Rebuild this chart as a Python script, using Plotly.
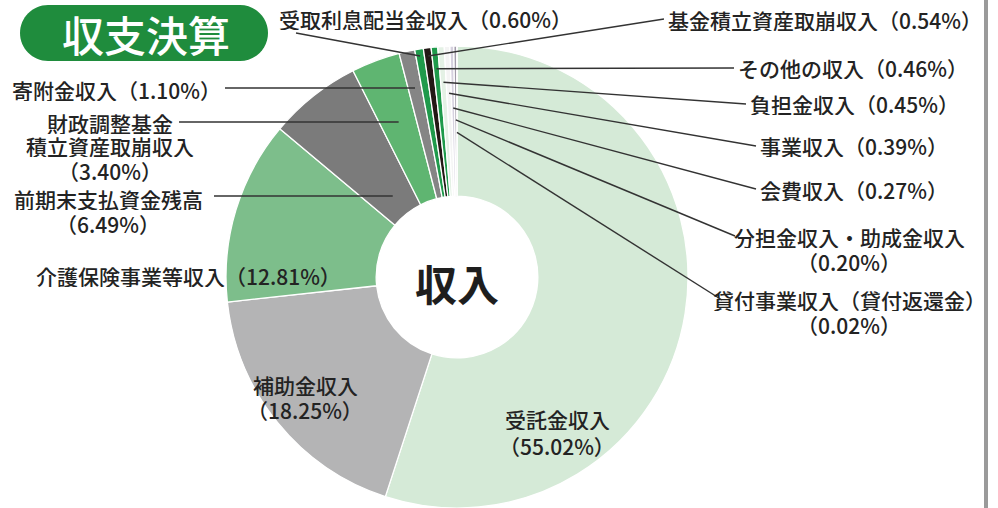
import math
import plotly.graph_objects as go

W, H = 998, 508

# ---------------- data ----------------
categories = ["受託金収入", "補助金収入", "介護保険事業等収入", "前期末支払資金残高",
              "財政調整基金積立資産取崩収入", "寄附金収入", "受取利息配当金収入",
              "基金積立資産取崩収入", "その他の収入", "負担金収入", "事業収入",
              "会費収入", "分担金収入・助成金収入", "貸付事業収入（貸付返還金）"]
values = [55.02, 18.25, 12.81, 6.49, 3.40, 1.10, 0.60, 0.54, 0.46, 0.45, 0.39, 0.27, 0.20, 0.02]
# how each name is broken into lines on the chart
display_names = ["受託金収入", "補助金収入", "介護保険事業等収入", "前期末支払資金残高",
                 "財政調整基金<br>積立資産取崩収入", "寄附金収入", "受取利息配当金収入",
                 "基金積立資産取崩収入", "その他の収入", "負担金収入", "事業収入",
                 "会費収入", "分担金収入・助成金収入", "貸付事業収入（貸付返還金）"]
value_on_new_line = [True, True, False, True, True, False, False,
                     False, False, False, False, False, True, True]
center_label = "収入"
title_text = "収支決算"

colors = ["#d5ead7", "#b4b4b5", "#7dbe8b", "#7b7b7b", "#5fb571", "#858585", "#1f9a4b",
          "#231815", "#1f9a4b", "#e4f1e5", "#f4f4f4", "#d6d1df", "#a29bab", "#555555"]

# ---------------- layout helpers ----------------
CX, R = 457.0, 231.0
CY = H - R
TEXT = "#232323"
FONT = "Noto Sans CJK JP"
FS = 21


def px(x):
    return x / W


def py(y):
    return 1 - y / H


total = sum(values)
mids = []
acc = 0.0
for v in values:
    mids.append((acc + v / 2) / total * 2 * math.pi)
    acc += v


def pie_point(i, r):
    th = mids[i]
    return CX + r * math.sin(th), CY - r * math.cos(th)


def label_lines(i):
    val = f"（{values[i]:.2f}%）"
    lines = display_names[i].split("<br>")
    if value_on_new_line[i]:
        lines.append(val)
    else:
        lines[-1] += val
    return lines


fig = go.Figure(go.Pie(
    labels=categories, values=values, sort=False, direction="clockwise", rotation=0,
    hole=0.35, textinfo="none", hoverinfo="skip",
    marker=dict(colors=colors, line=dict(color="white", width=1.3)),
    domain=dict(x=[(CX - R) / W, (CX + R) / W], y=[0, 2 * R / H]),
    showlegend=False,
))

shapes = []
annotations = []


def add_line(x0, y0, x1, y1):
    shapes.append(dict(type="line", xref="paper", yref="paper",
                       x0=px(x0), y0=py(y0), x1=px(x1), y1=py(y1),
                       line=dict(color="#333333", width=1.4)))


def add_text(i, x, y, xanchor="left", spacing=25):
    for k, line in enumerate(label_lines(i)):
        annotations.append(dict(text=line, x=px(x), y=py(y + k * spacing), xref="paper",
                                yref="paper", xanchor=xanchor, yanchor="middle",
                                showarrow=False, height=23, borderpad=0,
                                font=dict(family=FONT, size=FS, color=TEXT, weight=500)))


# right-hand labels: (index, text x, first line y, anchor, line start x, line start y, radius fraction)
right_specs = [
    (7, 667, 19, "left", 664, 19, 0.965),
    (8, 737, 68, "left", 734, 68, 0.906),
    (9, 749, 104, "left", 746, 104, 0.845),
    (10, 759, 146, "left", 756, 146, 0.796),
    (11, 759, 189, "left", 756, 189, 0.732),
    (12, 849, 236, "center", 735, 236, 0.68),
    (13, 849, 299, "center", 722, 300, 0.626),
]
for i, tx, ty, anc, lx, ly, rf in right_specs:
    add_text(i, tx, ty, xanchor=anc)
    ex, ey = pie_point(i, rf * R)
    add_line(lx, ly, ex, ey)

# top label
add_text(6, 278, 18)
ex, ey = pie_point(6, 0.97 * R)
add_line(296, 33, ex, ey)

# left labels with horizontal leaders: (index, text x, first line y, anchor, line start x, line y)
left_specs = [
    (5, 222, 89, "right", 225, 88),
    (4, 110, 122, "center", 179, 122),
    (3, 108, 199, "center", 214, 196),
]
for i, tx, ty, anc, lx, ly in left_specs:
    add_text(i, tx, ty, xanchor=anc, spacing=24)
    th = mids[i]
    r = (CY - ly) / math.cos(th)
    ex = CX + r * math.sin(th)
    add_line(lx, ly, ex, ly)

# labels without leaders
add_text(2, 35, 275)
add_text(1, 305, 384, xanchor="center")
add_text(0, 557, 418, xanchor="center", spacing=27)

# centre label
annotations.append(dict(text=center_label, x=px(CX), y=py(282), xref="paper", yref="paper",
                        showarrow=False, xanchor="center", yanchor="middle",
                        font=dict(family=FONT, size=42, color="#1e1e1e", weight="bold")))

# title pill
x0, x1, y0, y1 = 20, 268, 5, 61
r = (y1 - y0) / 2
k = 0.5523 * r
ym = y0 + r
pts = [
    f"M {px(x0 + r)} {py(y0)}",
    f"L {px(x1 - r)} {py(y0)}",
    f"C {px(x1 - r + k)} {py(y0)} {px(x1)} {py(ym - k)} {px(x1)} {py(ym)}",
    f"C {px(x1)} {py(ym + k)} {px(x1 - r + k)} {py(y1)} {px(x1 - r)} {py(y1)}",
    f"L {px(x0 + r)} {py(y1)}",
    f"C {px(x0 + r - k)} {py(y1)} {px(x0)} {py(ym + k)} {px(x0)} {py(ym)}",
    f"C {px(x0)} {py(ym - k)} {px(x0 + r - k)} {py(y0)} {px(x0 + r)} {py(y0)}",
    "Z",
]
shapes.append(dict(type="path", xref="paper", yref="paper", path=" ".join(pts),
                   fillcolor="#1f8c3d", line=dict(width=0)))
annotations.append(dict(text=title_text, x=px((x0 + x1) / 2 + 2), y=py(ym), xref="paper",
                        yref="paper", showarrow=False, xanchor="center", yanchor="middle",
                        font=dict(family=FONT, size=42, color="white", weight=500)))

# right border
shapes.append(dict(type="line", xref="paper", yref="paper", x0=px(986), x1=px(986), y0=0, y1=1,
                   line=dict(color="#9a9a9a", width=4)))

fig.update_layout(
    width=W, height=H, margin=dict(l=0, r=0, t=0, b=0),
    paper_bgcolor="white", plot_bgcolor="white",
    shapes=shapes, annotations=annotations,
    font=dict(family=FONT),
)

fig.write_html("out.html", config={"displayModeBar": False},
               post_script="document.body.style.margin='0px';document.body.style.overflow='hidden';")
